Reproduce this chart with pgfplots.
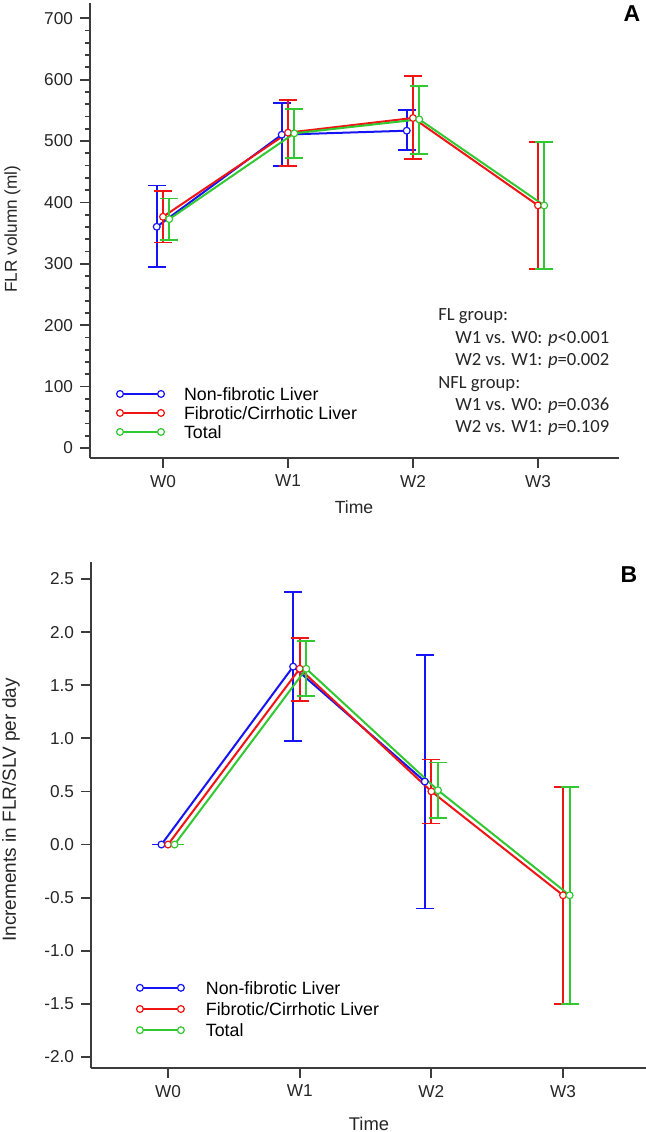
\documentclass[border=0pt]{standalone}
\usepackage{fontspec}
\setmainfont{Liberation Sans}
\newfontfamily\calfont{Carlito}
\usepackage{pgfplots}
\pgfplotsset{compat=1.18}
\definecolor{cblue}{RGB}{20,20,245}
\definecolor{cred}{RGB}{240,20,20}
\definecolor{cgreen}{RGB}{50,200,50}
\definecolor{axcol}{RGB}{60,60,60}

\pgfplotstableread{
x y ep em
-0.05 360.3 67.4 65.3
0.95 510.3 51.1 51.1
1.95 516.8 33.2 32.0
}\Ablue
\pgfplotstableread{
x y ep em
0 376.6 41.9 41.8
1 513.6 52.7 54.4
2 537.5 67.9 67.4
3 395.1 103.8 103.3
}\Ared
\pgfplotstableread{
x y ep em
0.05 372.8 33.7 33.7
1.05 512.5 39.1 40.8
2.05 535.3 54.9 56.5
3.05 395.0 104.0 103.0
}\Agreen

\pgfplotstableread{
x y ep em
-0.05 0 0 0
0.95 1.675 0.701 0.700
1.95 0.593 1.189 1.195
}\Bblue
\pgfplotstableread{
x y ep em
0 0 0 0
1 1.655 0.292 0.302
2 0.500 0.300 0.302
3 -0.478 1.023 1.027
}\Bred
\pgfplotstableread{
x y ep em
0.05 0 0 0
1.05 1.655 0.261 0.258
2.05 0.511 0.261 0.265
3.05 -0.478 1.023 1.027
}\Bgreen

\pgfplotsset{
  myaxis/.style={
    scale only axis,
    axis x line*=bottom, axis y line*=left,
    axis line style={-, draw=axcol, line width=0.9pt},
    every tick/.style={draw=axcol, line width=0.9pt},
    tick align=outside,
    major tick length=5pt, minor tick length=2.5pt,
    xtick={0,1,2,3}, xticklabels={W0,W1,W2,W3},
    tick label style={font=\fontsize{8.6}{10}\selectfont, text=black!85},
    /pgf/number format/assume math mode=true,
    legend style={draw=none, fill=none, inner sep=0pt, outer sep=0pt,
      font=\fontsize{8.9}{10}\selectfont,
      nodes={inner sep=0pt, outer sep=0pt, text height=6.4pt, text depth=0pt},
      cells={anchor=west}, anchor=west},
    legend image code/.code={\draw[##1] plot coordinates {(0pt,0pt) (20.5pt,0pt)};},
    legend cell align=left,
    clip=false,
  },
  ser/.style={color=#1, line width=1pt, mark=*, mark size=1.7pt,
    mark options={fill=white, draw=#1, line width=0.6pt, solid},
    error bars/.cd, y dir=both, y explicit,
    error mark=-,
    error bar style={line width=0.9pt, color=#1},
    error mark options={rotate=90, mark size=4.5pt, line width=0.9pt, color=#1}},
}

\begin{document}
\begin{tikzpicture}
\useasboundingbox (0,0) rectangle (323pt,566pt);
% Panel A
\begin{axis}[myaxis,
  at={(45pt,337pt)}, anchor=south west,
  width=264.5pt, height=227.5pt,
  xmin=-0.584, xmax=3.648, ymin=-16.3, ymax=724.8,
  ytick={0,100,...,700}, minor y tick num=4,
  legend style={at={(0.0503,0.099)}, row sep=3.1pt, column sep=9.8pt},
]
\addplot[ser=cblue] table[x=x, y=y, y error plus=ep, y error minus=em] {\Ablue};
\addlegendentry{Non-fibrotic Liver}
\addplot[ser=cred] table[x=x, y=y, y error plus=ep, y error minus=em] {\Ared};
\addlegendentry{Fibrotic/Cirrhotic Liver}
\addplot[ser=cgreen] table[x=x, y=y, y error plus=ep, y error minus=em] {\Agreen};
\addlegendentry{Total}
\end{axis}
% Panel B
\begin{axis}[myaxis,
  at={(45.5pt,32pt)}, anchor=south west,
  width=277.5pt, height=253pt,
  xmin=-0.585, xmax=3.63, ymin=-2.104, ymax=2.66,
  ytick={-2,-1.5,...,2.5},
  yticklabel style={/pgf/number format/.cd, fixed, fixed zerofill, precision=1},
  legend style={at={(0.082,0.1166)}, row sep=4.2pt, column sep=10.8pt},
]
\addplot[ser=cblue] table[x=x, y=y, y error plus=ep, y error minus=em] {\Bblue};
\addlegendentry{Non-fibrotic Liver}
\addplot[ser=cred] table[x=x, y=y, y error plus=ep, y error minus=em] {\Bred};
\addlegendentry{Fibrotic/Cirrhotic Liver}
\addplot[ser=cgreen] table[x=x, y=y, y error plus=ep, y error minus=em] {\Bgreen};
\addlegendentry{Total}
\end{axis}
% labels
\node[rotate=90, font=\fontsize{8.6}{10}\selectfont, text=black!85] at (6.2pt,451.5pt) {FLR volumn (ml)};
\node[rotate=90, font=\fontsize{9.5}{11}\selectfont, text=black!85] at (5.5pt,161pt) {Increments in FLR/SLV per day};
\node[font=\fontsize{8.8}{10}\selectfont, text=black!85] at (177pt,312.5pt) {Time};
\node[font=\fontsize{9.2}{10}\selectfont, text=black!85] at (184.5pt,4pt) {Time};
\node[font=\fontsize{11.5}{12}\selectfont\bfseries] at (316pt,559pt) {A};
\node[font=\fontsize{11.5}{12}\selectfont\bfseries] at (314.5pt,278.5pt) {B};
% annotation
\begin{scope}[every node/.style={anchor=base west, inner sep=0pt, font=\calfont\fontsize{9.3}{11}\selectfont, text=black!85}]
\node at (219pt,405.5pt) {FL group:};
\node at (227.5pt,394pt) {W1 vs. W0: \textit{p}<0.001};
\node at (227.5pt,383pt) {W2 vs. W1: \textit{p}=0.002};
\node at (219pt,371.5pt) {NFL group:};
\node at (227.5pt,360.5pt) {W1 vs. W0: \textit{p}=0.036};
\node at (227.5pt,349.5pt) {W2 vs. W1: \textit{p}=0.109};
\end{scope}
\end{tikzpicture}
\end{document}
